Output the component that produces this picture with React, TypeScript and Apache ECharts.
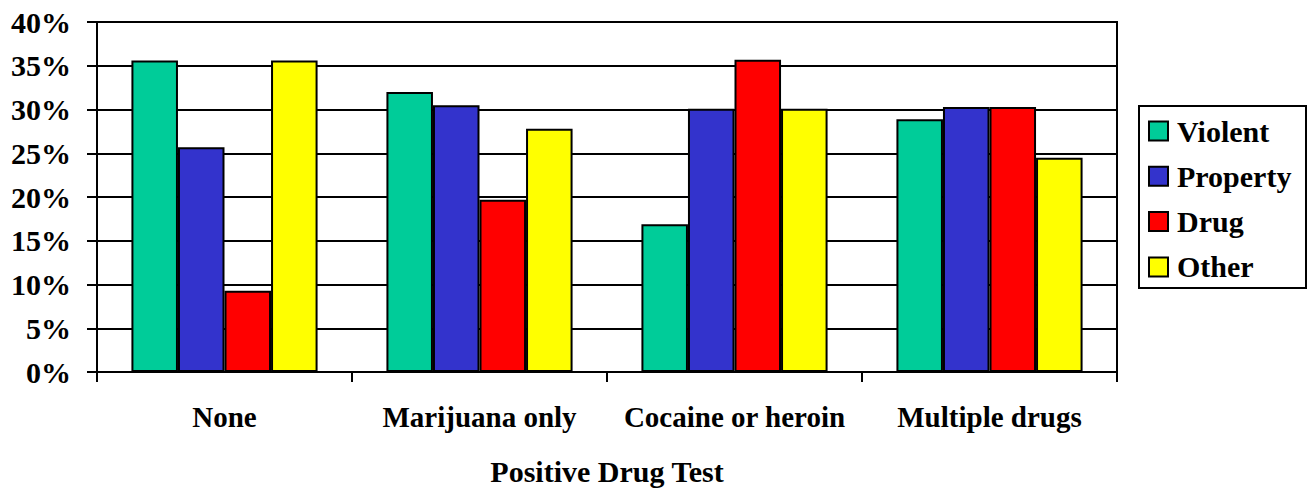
import React, { useEffect, useRef } from "react";
import * as echarts from "echarts";

const categories = ["None", "Marijuana only", "Cocaine or heroin", "Multiple drugs"];
const seriesNames = ["Violent", "Property", "Drug", "Other"];
const violent = [35.6, 32.0, 16.9, 28.9];
const property = [25.7, 30.5, 30.1, 30.3];
const drug = [9.3, 19.7, 35.7, 30.3];
const other = [35.6, 27.8, 30.1, 24.5];
const colors = ["#00CC99", "#3333CC", "#FF0000", "#FFFF00"];
const xAxisTitle = "Positive Drug Test";

const FONT = "Liberation Serif";

export default function App() {
  const ref = useRef<HTMLDivElement>(null);
  useEffect(() => {
    if (!ref.current) return;
    const chart = echarts.init(ref.current, null, { renderer: "svg" });
    const values = [violent, property, drug, other];

    // Legend drawn as a graphic group (box, swatches, serif labels)
    const legendX = 1139;
    const legendY = 106;
    const legendW = 167;
    const legendH = 182;
    const rowStep = 45.3;
    const firstRow = 25;
    const legendChildren: any[] = [
      {
        type: "rect",
        shape: { x: 0, y: 0, width: legendW, height: legendH },
        style: { fill: "#fff", stroke: "#000", lineWidth: 2 },
      },
    ];
    seriesNames.forEach((name, i) => {
      const cy = firstRow + rowStep * i;
      legendChildren.push({
        type: "rect",
        shape: { x: 10, y: cy - 9.5, width: 19, height: 19 },
        style: { fill: colors[i], stroke: "#000", lineWidth: 2 },
      });
      legendChildren.push({
        type: "text",
        x: 38,
        y: cy,
        style: {
          text: name,
          fill: "#000",
          font: "bold 30px 'Liberation Serif'",
          textVerticalAlign: "middle",
          verticalAlign: "middle",
          align: "left",
        },
      });
    });

    chart.setOption({
      animation: false,
      backgroundColor: "#ffffff",
      textStyle: { fontFamily: FONT, fontWeight: "bold", color: "#000" },
      grid: {
        left: 97,
        right: 197,
        top: 22,
        bottom: 119,
        show: true,
        borderColor: "#000",
        borderWidth: 2,
        backgroundColor: "transparent",
      },
      graphic: [
        {
          type: "group",
          x: legendX,
          y: legendY,
          children: legendChildren,
        },
      ],
      xAxis: {
        type: "category",
        data: categories,
        name: xAxisTitle,
        nameLocation: "middle",
        nameGap: 84,
        nameTextStyle: {
          fontFamily: FONT,
          fontWeight: "bold",
          fontSize: 30,
          color: "#000",
        },
        axisLine: { show: true, lineStyle: { color: "#000", width: 2 } },
        axisTick: { show: true, interval: 0, length: 10, lineStyle: { color: "#000", width: 2 } },
        axisLabel: {
          interval: 0,
          margin: 30,
          fontFamily: FONT,
          fontWeight: "bold",
          fontSize: 29,
          color: "#000",
        },
        splitLine: { show: false },
      },
      yAxis: {
        type: "value",
        min: 0,
        max: 40,
        interval: 5,
        axisLine: { show: true, lineStyle: { color: "#000", width: 2 } },
        axisTick: { show: true, length: 10, lineStyle: { color: "#000", width: 2 } },
        axisLabel: {
          margin: 26,
          formatter: "{value}%",
          fontFamily: FONT,
          fontWeight: "bold",
          fontSize: 30,
          color: "#000",
        },
        splitLine: { show: true, lineStyle: { color: "#000", width: 2 } },
      },
      series: seriesNames.map((name, i) => ({
        name,
        type: "bar",
        data: values[i],
        barGap: "0%",
        barCategoryGap: "27%",
        itemStyle: { color: colors[i], borderColor: "#000", borderWidth: 2 },
      })),
    });
    return () => chart.dispose();
  }, []);
  return (
    <div
      ref={ref}
      style={{ position: "fixed", left: 0, top: 0, width: 1314, height: 491 }}
    />
  );
}
